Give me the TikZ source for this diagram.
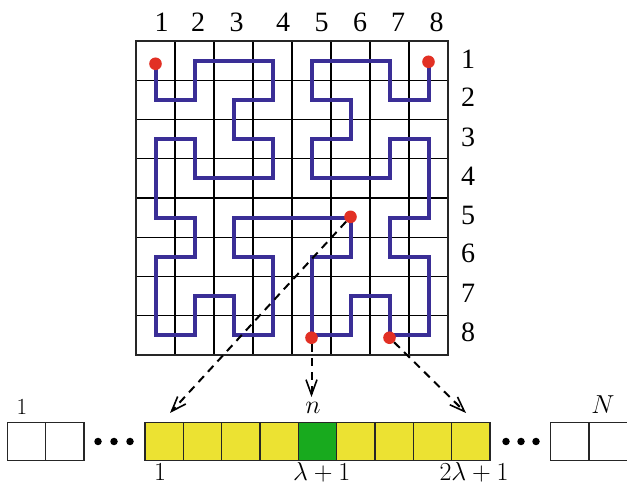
\RequirePackage{fix-cm}
\documentclass[tikz,border=0pt]{standalone}
\usepackage{fontspec}
\newfontfamily\gridfont{Liberation Serif}
\usetikzlibrary{arrows.meta}
\definecolor{pathblue}{RGB}{58,46,150}
\definecolor{dotred}{RGB}{226,48,36}
\definecolor{cellyellow}{RGB}{236,226,50}
\definecolor{cellgreen}{RGB}{24,170,30}
\tikzset{
  gridline/.style={line width=1.4pt, black},
  frameline/.style={line width=2.6pt, black!85},
  hilbert/.style={line width=4pt, pathblue, line join=miter},
  reddot/.style={circle, fill=dotred, inner sep=0pt, minimum size=12.6pt},
  gridnum/.style={font=\gridfont\fontsize{28}{30}\selectfont, inner sep=0pt},
  mathlbl/.style={font=\fontsize{26}{30}\selectfont, inner sep=0pt},
  cellbox/.style={draw=black!85, line width=1.2pt, minimum width=38.33pt, minimum height=38.3pt, inner sep=0pt},
  emptycell/.style={cellbox, fill=white},
  yellowcell/.style={cellbox, fill=cellyellow},
  greencell/.style={cellbox, fill=cellgreen},
  elldot/.style={circle, fill=black, inner sep=0pt, minimum size=7.5pt},
  dasharrow/.style={line width=2pt, dash pattern=on 8pt off 6pt, -{Straight Barb[length=15pt,width=11pt,line width=1.6pt]}}
}
\begin{document}
\begin{tikzpicture}[x=1pt,y=-1pt]
\useasboundingbox (0,0) rectangle (627,486);
% grid
\foreach \i in {1,...,7} {
  \draw[gridline] ({136+39*\i},41) -- ({136+39*\i},355);
  \draw[gridline] (136,{41+39.25*\i}) -- (448,{41+39.25*\i});
}
\draw[frameline] (136,41) rectangle (448,355);
% column and row numbers
\foreach \n/\xx in {1/161.7,2/198,3/236.7,4/283,5/321.7,6/360,7/398,8/436.7}
  \node[gridnum] (c\n) at (\xx,22.5) {\n};
\foreach \n/\yy in {1/59,2/97.5,3/137,4/176.5,5/215,6/253.5,7/293,8/332}
  \node[gridnum] (r\n) at (468,\yy) {\n};
% curve
\begin{scope}[shift={(116.5,21.375)}, x=39pt, y=-39.25pt]
\draw[hilbert] (1,1) -- (1,2) -- (2,2) -- (2,1) -- (4,1) -- (4,2) -- (3,2) -- (3,3) -- (4,3) -- (4,4) -- (2,4) -- (2,3) -- (1,3) -- (1,5) -- (2,5) -- (2,6) -- (1,6) -- (1,8) -- (2,8) -- (2,7) -- (3,7) -- (3,8) -- (4,8) -- (4,6) -- (3,6) -- (3,5) -- (6,5) -- (6,6) -- (5,6) -- (5,8) -- (6,8) -- (6,7) -- (7,7) -- (7,8) -- (8,8) -- (8,6) -- (7,6) -- (7,5) -- (8,5) -- (8,3) -- (7,3) -- (7,4) -- (5,4) -- (5,3) -- (6,3) -- (6,2) -- (5,2) -- (5,1) -- (7,1) -- (7,2) -- (8,2) -- (8,1);
\node[reddot] (d11) at (1,1.08) {};
\node[reddot] (d81) at (8,1.03) {};
\node[reddot] (d65) at (6,4.98) {};
\node[reddot] (d58) at (5,8.06) {};
\node[reddot] (d78) at (7,8.06) {};
\end{scope}
% array
\foreach \k/\xx in {1/26.5,2/64.85}
  \node[emptycell] (wl\k) at (\xx,441.5) {};
\foreach \k in {0,...,8} {
  \ifnum\k=4
    \node[greencell] (a\k) at ({164.17+38.33*\k},441.5) {};
  \else
    \node[yellowcell] (a\k) at ({164.17+38.33*\k},441.5) {};
  \fi
}
\foreach \k/\xx in {1/569.85,2/608.5}
  \node[emptycell] (wr\k) at (\xx,441.5) {};
\foreach \k/\xx in {1/98,2/114,3/130}
  \node[elldot] (el\k) at (\xx,441.5) {};
\foreach \k/\xx in {1/506,2/521,3/536}
  \node[elldot] (er\k) at (\xx,441.5) {};
% labels
\node[mathlbl, font=\fontsize{23}{26}\selectfont] (lone) at (22,407.5) {$1$};
\node[mathlbl] (lN) at (603,404.5) {$N$};
\node[mathlbl] (ln) at (313,408) {$n$};
\node[mathlbl, anchor=base] (b1) at (160,480.5) {$1$};
\node[mathlbl, anchor=base] (bl) at (321.7,480.5) {$\lambda+1$};
\node[mathlbl, anchor=base] (b2l) at (474,480.5) {$2\lambda+1$};
% arrows
\coordinate (t1) at (170,413);
\coordinate (t2) at (311.5,397);
\coordinate (t3) at (466,413);
\draw[dasharrow] (d65) -- (t1);
\draw[dasharrow] (d58) -- (t2);
\draw[dasharrow] (d78) -- (t3);
\end{tikzpicture}
\end{document}
